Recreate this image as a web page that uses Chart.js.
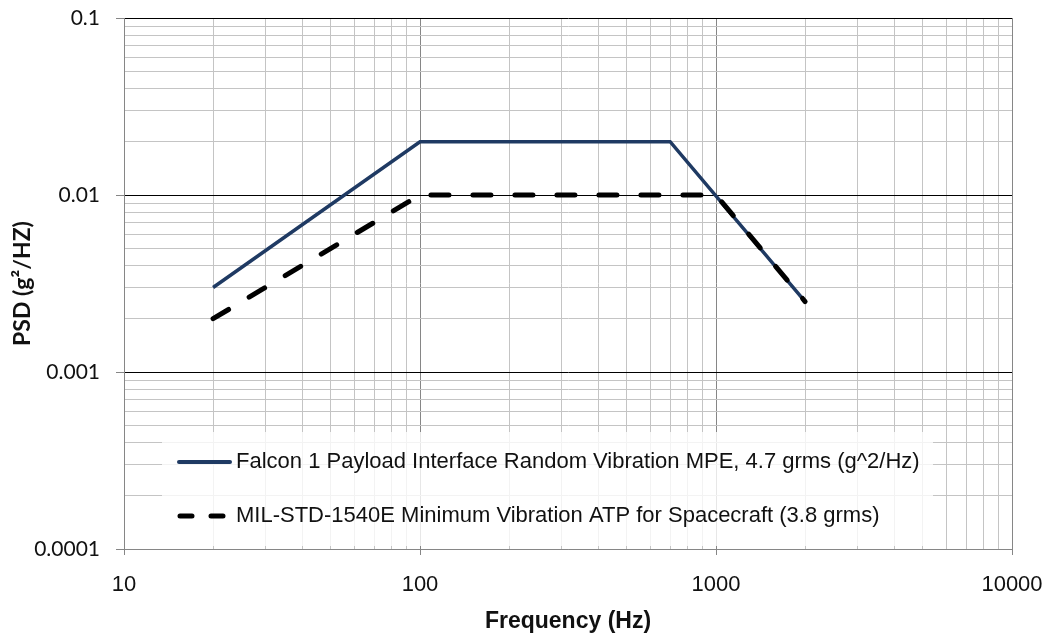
<!DOCTYPE html>
<html>
<head>
<meta charset="utf-8">
<title>Random Vibration PSD</title>
<script src="https://cdn.jsdelivr.net/npm/chart.js@4.4.1/dist/chart.umd.min.js"></script>
<style>
  html, body { margin: 0; padding: 0; background: #ffffff; }
  #psdChart { display: block; }
</style>
</head>
<body>
<canvas id="psdChart" width="1050" height="640"></canvas>
<script>
// breakpoints of the two PSD profiles
const freqFalcon = [20, 100, 700, 2000];
const psdFalcon = [0.003, 0.02, 0.02, 0.0025];
const freqMil = [20, 100, 1000, 2000];
const psdMil = [0.002, 0.01, 0.01, 0.0025];

const labelFalcon = 'Falcon 1 Payload Interface Random Vibration MPE, 4.7 grms (g^2/Hz)';
const labelMil = 'MIL-STD-1540E Minimum Vibration ATP for Spacecraft (3.8 grms)';

// decade ticks and their labels
const xDecades = [10, 100, 1000, 10000];
const xTickLabels = ['10', '100', '1000', '10000'];
const yDecades = [0.0001, 0.001, 0.01, 0.1];
const yTickLabels = ['0.0001', '0.001', '0.01', '0.1'];

const navy = '#1F3A63';
const minorGrid = '#c4c4c4';
const axisGray = '#868686';

// 1..9 inside every decade, plus the last decade
function logTicks(decades) {
  const out = [];
  for (let i = 0; i < decades.length - 1; i++) {
    for (let m = 1; m <= 9; m++) out.push(decades[i] * m);
  }
  out.push(decades[decades.length - 1]);
  return out;
}

function decadeIndex(decades, v) {
  return decades.findIndex(d => Math.abs(v / d - 1) < 1e-9);
}

const toPoints = (xs, ys) => xs.map((x, i) => ({ x: x, y: ys[i] }));

// legend box sitting inside the plot, drawn over the grid
const insideLegend = {
  id: 'insideLegend',
  beforeDatasetsDraw(chart) {
    const ctx = chart.ctx;
    const area = chart.chartArea;
    const box = { left: 162, right: 933, top: 432, bottom: area.bottom - 3 };
    ctx.save();
    ctx.fillStyle = 'rgba(255,255,255,0.8)';
    ctx.fillRect(box.left, box.top, box.right - box.left, box.bottom - box.top);

    const rows = [462, 516];
    chart.data.datasets.forEach((ds, i) => {
      const y = rows[i];
      ctx.beginPath();
      ctx.strokeStyle = ds.borderColor;
      if (ds.borderDash) {
        ctx.lineWidth = 5;
        ctx.lineCap = 'round';
        ctx.setLineDash([12, 19]);
        ctx.moveTo(180, y);
        ctx.lineTo(224, y);
      } else {
        ctx.lineWidth = 4;
        ctx.lineCap = 'round';
        ctx.setLineDash([]);
        ctx.moveTo(179, y);
        ctx.lineTo(230, y);
      }
      ctx.stroke();
      ctx.setLineDash([]);
      ctx.fillStyle = '#111111';
      ctx.font = '22px "Liberation Sans", Arial, sans-serif';
      ctx.textBaseline = 'middle';
      ctx.textAlign = 'left';
      ctx.fillText(ds.label, 236, y);
    });
    ctx.restore();
  }
};

const config = {
  type: 'line',
  data: {
    datasets: [{
      label: labelFalcon,
      data: toPoints(freqFalcon, psdFalcon),
      borderColor: navy,
      borderWidth: 3.5,
      pointRadius: 0,
      tension: 0,
      fill: false,
      order: 1
    }, {
      label: labelMil,
      data: toPoints(freqMil, psdMil),
      borderColor: '#000000',
      borderWidth: 5,
      borderDash: [18, 24],
      borderCapStyle: 'round',
      pointRadius: 0,
      tension: 0,
      fill: false,
      order: 0
    }]
  },
  options: {
    responsive: false,
    animation: false,
    devicePixelRatio: 1,
    layout: { padding: { left: 0, right: 38, top: 18, bottom: 0 } },
    plugins: {
      legend: { display: false },
      tooltip: { enabled: false }
    },
    scales: {
      x: {
        type: 'logarithmic',
        min: 10,
        max: 10000,
        afterBuildTicks: scale => {
          scale.ticks = logTicks(xDecades).map(v => ({ value: v, major: decadeIndex(xDecades, v) >= 0 }));
        },
        afterFit: scale => {
          scale.height = 91;
          scale.paddingLeft = 0;
          scale.paddingRight = 0;
        },
        ticks: {
          autoSkip: false,
          maxRotation: 0,
          padding: 17,
          color: '#111111',
          font: { family: '"Liberation Sans", Arial, sans-serif', size: 22 },
          callback: value => {
            const i = decadeIndex(xDecades, value);
            return i >= 0 ? xTickLabels[i] : '';
          }
        },
        grid: {
          lineWidth: 1,
          tickLength: 6,
          color: c => decadeIndex(xDecades, c.tick.value) >= 0 ? axisGray : minorGrid,
          tickColor: c => decadeIndex(xDecades, c.tick.value) >= 0 ? axisGray : 'rgba(0,0,0,0)'
        },
        border: { color: axisGray, width: 1 },
        title: {
          display: true,
          text: 'Frequency (Hz)',
          color: '#111111',
          padding: { top: 5, bottom: 5 },
          font: { family: '"Liberation Sans", Arial, sans-serif', size: 23, weight: 'bold' }
        }
      },
      y: {
        type: 'logarithmic',
        min: 0.0001,
        max: 0.1,
        afterBuildTicks: scale => {
          scale.ticks = logTicks(yDecades).map(v => ({ value: v, major: decadeIndex(yDecades, v) >= 0 }));
        },
        afterFit: scale => {
          scale.width = 124;
          scale.paddingTop = 0;
          scale.paddingBottom = 0;
        },
        ticks: {
          autoSkip: false,
          padding: 16,
          color: '#111111',
          font: { family: 'Lato, "Noto Sans", sans-serif', size: 21 },
          callback: value => {
            const i = decadeIndex(yDecades, value);
            return i >= 0 ? yTickLabels[i] : '';
          }
        },
        grid: {
          lineWidth: 1,
          tickLength: 8,
          color: c => {
            const i = decadeIndex(yDecades, c.tick.value);
            if (i === 0) return axisGray;
            return i > 0 ? '#000000' : minorGrid;
          },
          tickColor: c => decadeIndex(yDecades, c.tick.value) >= 0 ? axisGray : 'rgba(0,0,0,0)'
        },
        border: { color: axisGray, width: 1 },
        title: {
          display: true,
          text: 'PSD (g²/HZ)',
          color: '#111111',
          padding: { top: 9, bottom: 9 },
          font: { family: 'Lato, "Noto Sans", sans-serif', size: 23, weight: 'bold' }
        }
      }
    }
  },
  plugins: [insideLegend]
};

const psdChart = new Chart(document.getElementById('psdChart'), config);
</script>
</body>
</html>
